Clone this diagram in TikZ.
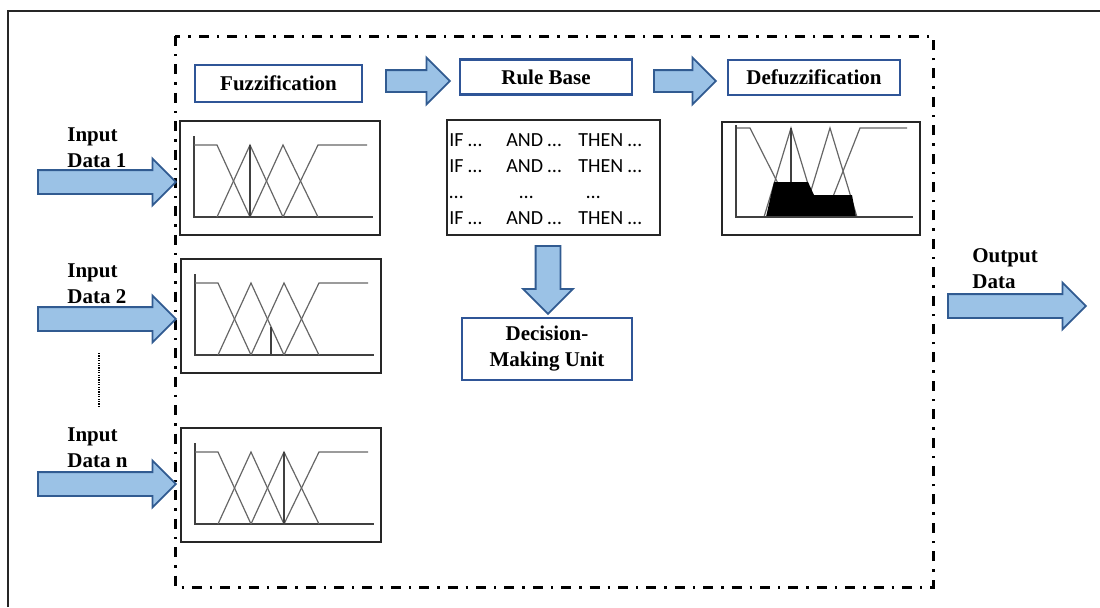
\documentclass[tikz,border=0pt]{standalone}
\usepackage{fontspec}
\setmainfont{Liberation Serif}
\newfontfamily\carlito{Carlito}
\usetikzlibrary{positioning,shapes.arrows}

\definecolor{boxblue}{RGB}{47,85,151}
\definecolor{arrowfill}{RGB}{155,194,230}
\definecolor{arrowedge}{RGB}{49,91,145}

\tikzset{
  mfcurves/.pic={
    \draw[axis] (14,15) -- (14,96) -- (193,96);
    \draw[curve] (14,24) -- (37,24) -- (70,96);
    \draw[curve] (37,96) -- (70,24) -- (103,96);
    \draw[curve] (70,96) -- (103,24) -- (138,96);
    \draw[curve] (103,96) -- (138,24) -- (187,24);
  }
}

\begin{document}
\begin{tikzpicture}[
  x=0.5pt,
  y=-0.5pt,
  font=\fontsize{10.5}{13}\selectfont\bfseries,
  title/.style={draw=boxblue, line width=1.1pt, fill=white, minimum width=86pt, minimum height=17.5pt, align=center, inner sep=2pt},
  plotbox/.style={draw=black!85, line width=1pt, inner sep=0, outer sep=0},
  mfbox/.style={plotbox, minimum width=100pt, minimum height=57pt, anchor=north west},
  fatarrow/.style={single arrow, draw=arrowedge, fill=arrowfill, line width=0.9pt, inner sep=0, text width=0pt, text height=5.5pt, text depth=5.5pt, single arrow head extend=5.75pt, anchor=tail},
  lab/.style={align=left, anchor=north west, inner sep=0},
  ruletxt/.style={font=\carlito\mdseries\fontsize{10}{12}\selectfont, anchor=base west, inner sep=0},
  axis/.style={draw=black!75, line width=0.7pt},
  curve/.style={draw=black!60, line width=0.6pt},
  frame/.style={line width=1.5pt, dash pattern=on 5pt off 4pt on 1.2pt off 4pt},
  dotline/.style={line width=0.9pt, dash pattern=on 0.6pt off 0.6pt}
]
  \useasboundingbox (0,0) rectangle (1100,607);

  % outer border and system frame
  \draw[line width=1pt, black!85] (8,607) -- (8,11) -- (1100,11);
  \draw[frame] (175,36) rectangle (933,587);

  % stage titles
  \node[title, minimum width=83.5pt, minimum height=18.5pt] (fuzz) at (278.5,83.5) {Fuzzification};
  \node[title] (rulebase) at (546,77) {Rule Base};
  \node[title] (defuzz) at (814,77.5) {Defuzzification};
  \node[title, minimum width=85pt, minimum height=31pt] (dmu) at (547,349) {Decision-\\Making Unit};

  % membership function plots
  \node[mfbox] (mf1) at (180,121) {};
  \node[mfbox] (mf2) at (181,259) {};
  \node[mfbox] (mfn) at (181,428) {};
  \pic at (mf1.north west) {mfcurves};
  \pic at (mf2.north west) {mfcurves};
  \pic at (mfn.north west) {mfcurves};
  \draw[axis] ([shift={(70,24)}]mf1.north west) -- ++(0,72);
  \draw[axis] ([shift={(90,68)}]mf2.north west) -- ++(0,27);
  \draw[axis] ([shift={(103,24)}]mfn.north west) -- ++(0,72);

  % rule base
  \node[plotbox, minimum width=106.5pt, minimum height=57.5pt] (rules) at (553.5,177.5) {};
  \foreach \yy/\nm in {146/r1, 172/r2, 224/r4} {
    \node[ruletxt] (\nm-if) at (449,\yy) {IF …};
    \node[ruletxt] (\nm-and) at (506,\yy) {AND …};
    \node[ruletxt] (\nm-then) at (578,\yy) {THEN …};
  }
  \node[ruletxt] (r3-if) at (449,198) {…};
  \node[ruletxt] (r3-and) at (519,198) {…};
  \node[ruletxt] (r3-then) at (586,198) {…};

  % defuzzification plot
  \node[plotbox, minimum width=99pt, minimum height=56.5pt] (defplot) at (821,178.5) {};
  \draw[curve] (736,128) -- (750,128) -- (795,217);
  \draw[curve] (764,217) -- (791,128) -- (818,217);
  \draw[curve] (803,217) -- (830,128) -- (857,217);
  \draw[curve] (825,217) -- (860,128) -- (907,128);
  \fill (766,217) -- (774,182) -- (808,182) -- (814,195) -- (852,195) -- (856,217) -- cycle;
  \draw[axis] (736,125) -- (736,217) -- (913,217);
  \draw[axis] (791,128) -- (791,182);

  % block arrows
  \node[fatarrow, minimum height=69pt] (in1) at (37,182) {};
  \node[fatarrow, minimum height=69pt] (in2) at (37,319) {};
  \node[fatarrow, minimum height=69pt] (inn) at (37,484) {};
  \node[fatarrow, minimum height=32pt, text height=5pt, text depth=5pt, single arrow head extend=6.25pt] (tofuzz) at (385,81) {};
  \node[fatarrow, minimum height=31pt, text height=5pt, text depth=5pt, single arrow head extend=6.25pt] (torule) at (653,81) {};
  \node[fatarrow, minimum height=34pt, text width=11.5pt, text height=0pt, text depth=0pt, single arrow head extend=6.25pt, shape border rotate=270] (todmu) at (548,245) {};
  \node[fatarrow, minimum height=69pt] (out) at (947,306) {};

  % data labels
  \node[lab] (lin1) at (67,127) {Input\\Data 1};
  \node[lab] (lin2) at (67,263) {Input\\Data 2};
  \node[lab] (linn) at (67,427) {Input\\Data n};
  \node[lab] (lout) at (972,248) {Output\\Data};
  \draw[dotline] (99,353) -- (99,408);
\end{tikzpicture}
\end{document}
